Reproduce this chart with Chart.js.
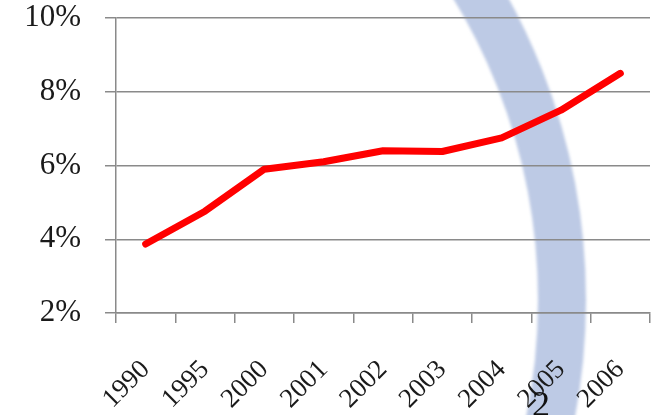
<!DOCTYPE html>
<html>
<head>
<meta charset="utf-8">
<script src="https://cdn.jsdelivr.net/npm/chart.js@4/dist/chart.umd.min.js"></script>
<style>
html,body{margin:0;padding:0;background:#fff;}
#wrap{width:656px;height:415px;}
</style>
</head>
<body>
<div id="wrap"><canvas id="c" width="656" height="415"></canvas></div>
<script>
const years = ['1990','1995','2000','2001','2002','2003','2004','2005','2006'];
const rates = [3.87, 4.76, 5.9, 6.1, 6.4, 6.38, 6.75, 7.5, 8.5];
const yTicks = [2, 4, 6, 8, 10];

const arcBackdrop = {
  id: 'arcBackdrop',
  beforeDraw(chart) {
    const ctx = chart.ctx;
    ctx.save();
    ctx.filter = 'blur(1.5px)';
    ctx.strokeStyle = '#bdcae5';
    ctx.lineWidth = 48;
    ctx.beginPath();
    ctx.arc(-40, 300, 602, -Math.PI / 2, Math.PI / 2);
    ctx.stroke();
    ctx.restore();
  },
  afterDraw(chart) {
    const ctx = chart.ctx;
    ctx.save();
    ctx.fillStyle = '#111';
    ctx.font = '36px "Liberation Serif", serif';
    ctx.textAlign = 'left';
    ctx.textBaseline = 'alphabetic';
    ctx.fillText('2', 532, 416);
    ctx.restore();
  }
};

function zeroPad(scale) {
  scale.paddingTop = 0; scale.paddingBottom = 0;
  scale.paddingLeft = 0; scale.paddingRight = 0;
}

new Chart(document.getElementById('c'), {
  type: 'line',
  data: {
    labels: years,
    datasets: [{
      data: rates,
      borderColor: '#ff0000',
      borderWidth: 7,
      borderCapStyle: 'round',
      borderJoinStyle: 'round',
      pointRadius: 0,
      tension: 0,
      fill: false
    }]
  },
  options: {
    responsive: false,
    animation: false,
    devicePixelRatio: 1,
    layout: { padding: { top: 18, right: 6, left: 0, bottom: 0 } },
    plugins: { legend: { display: false }, tooltip: { enabled: false }, title: { display: false } },
    scales: {
      x: {
        offset: true,
        grid: { offset: true, drawOnChartArea: false, drawTicks: true, tickLength: 10, color: '#8a8a8a', lineWidth: 1.5 },
        border: { color: '#8a8a8a', width: 1.5 },
        ticks: {
          minRotation: 45, maxRotation: 45, autoSkip: false, padding: 31,
          color: '#1a1a1a',
          font: { family: '"Liberation Serif", serif', size: 27 }
        },
        afterFit(scale) { scale.height = 102; zeroPad(scale); }
      },
      y: {
        min: 2, max: 10,
        afterBuildTicks(scale) { scale.ticks = yTicks.map(v => ({ value: v })); },
        grid: { color: '#8a8a8a', lineWidth: 1.5, tickLength: 11 },
        border: { color: '#8a8a8a', width: 1.5 },
        ticks: {
          padding: 24,
          color: '#1a1a1a',
          font: { family: '"Liberation Serif", serif', size: 31, lineHeight: 1.0 },
          callback: v => v + '%'
        },
        afterFit(scale) { scale.width = 116; zeroPad(scale); }
      }
    }
  },
  plugins: [arcBackdrop]
});
</script>
</body>
</html>
